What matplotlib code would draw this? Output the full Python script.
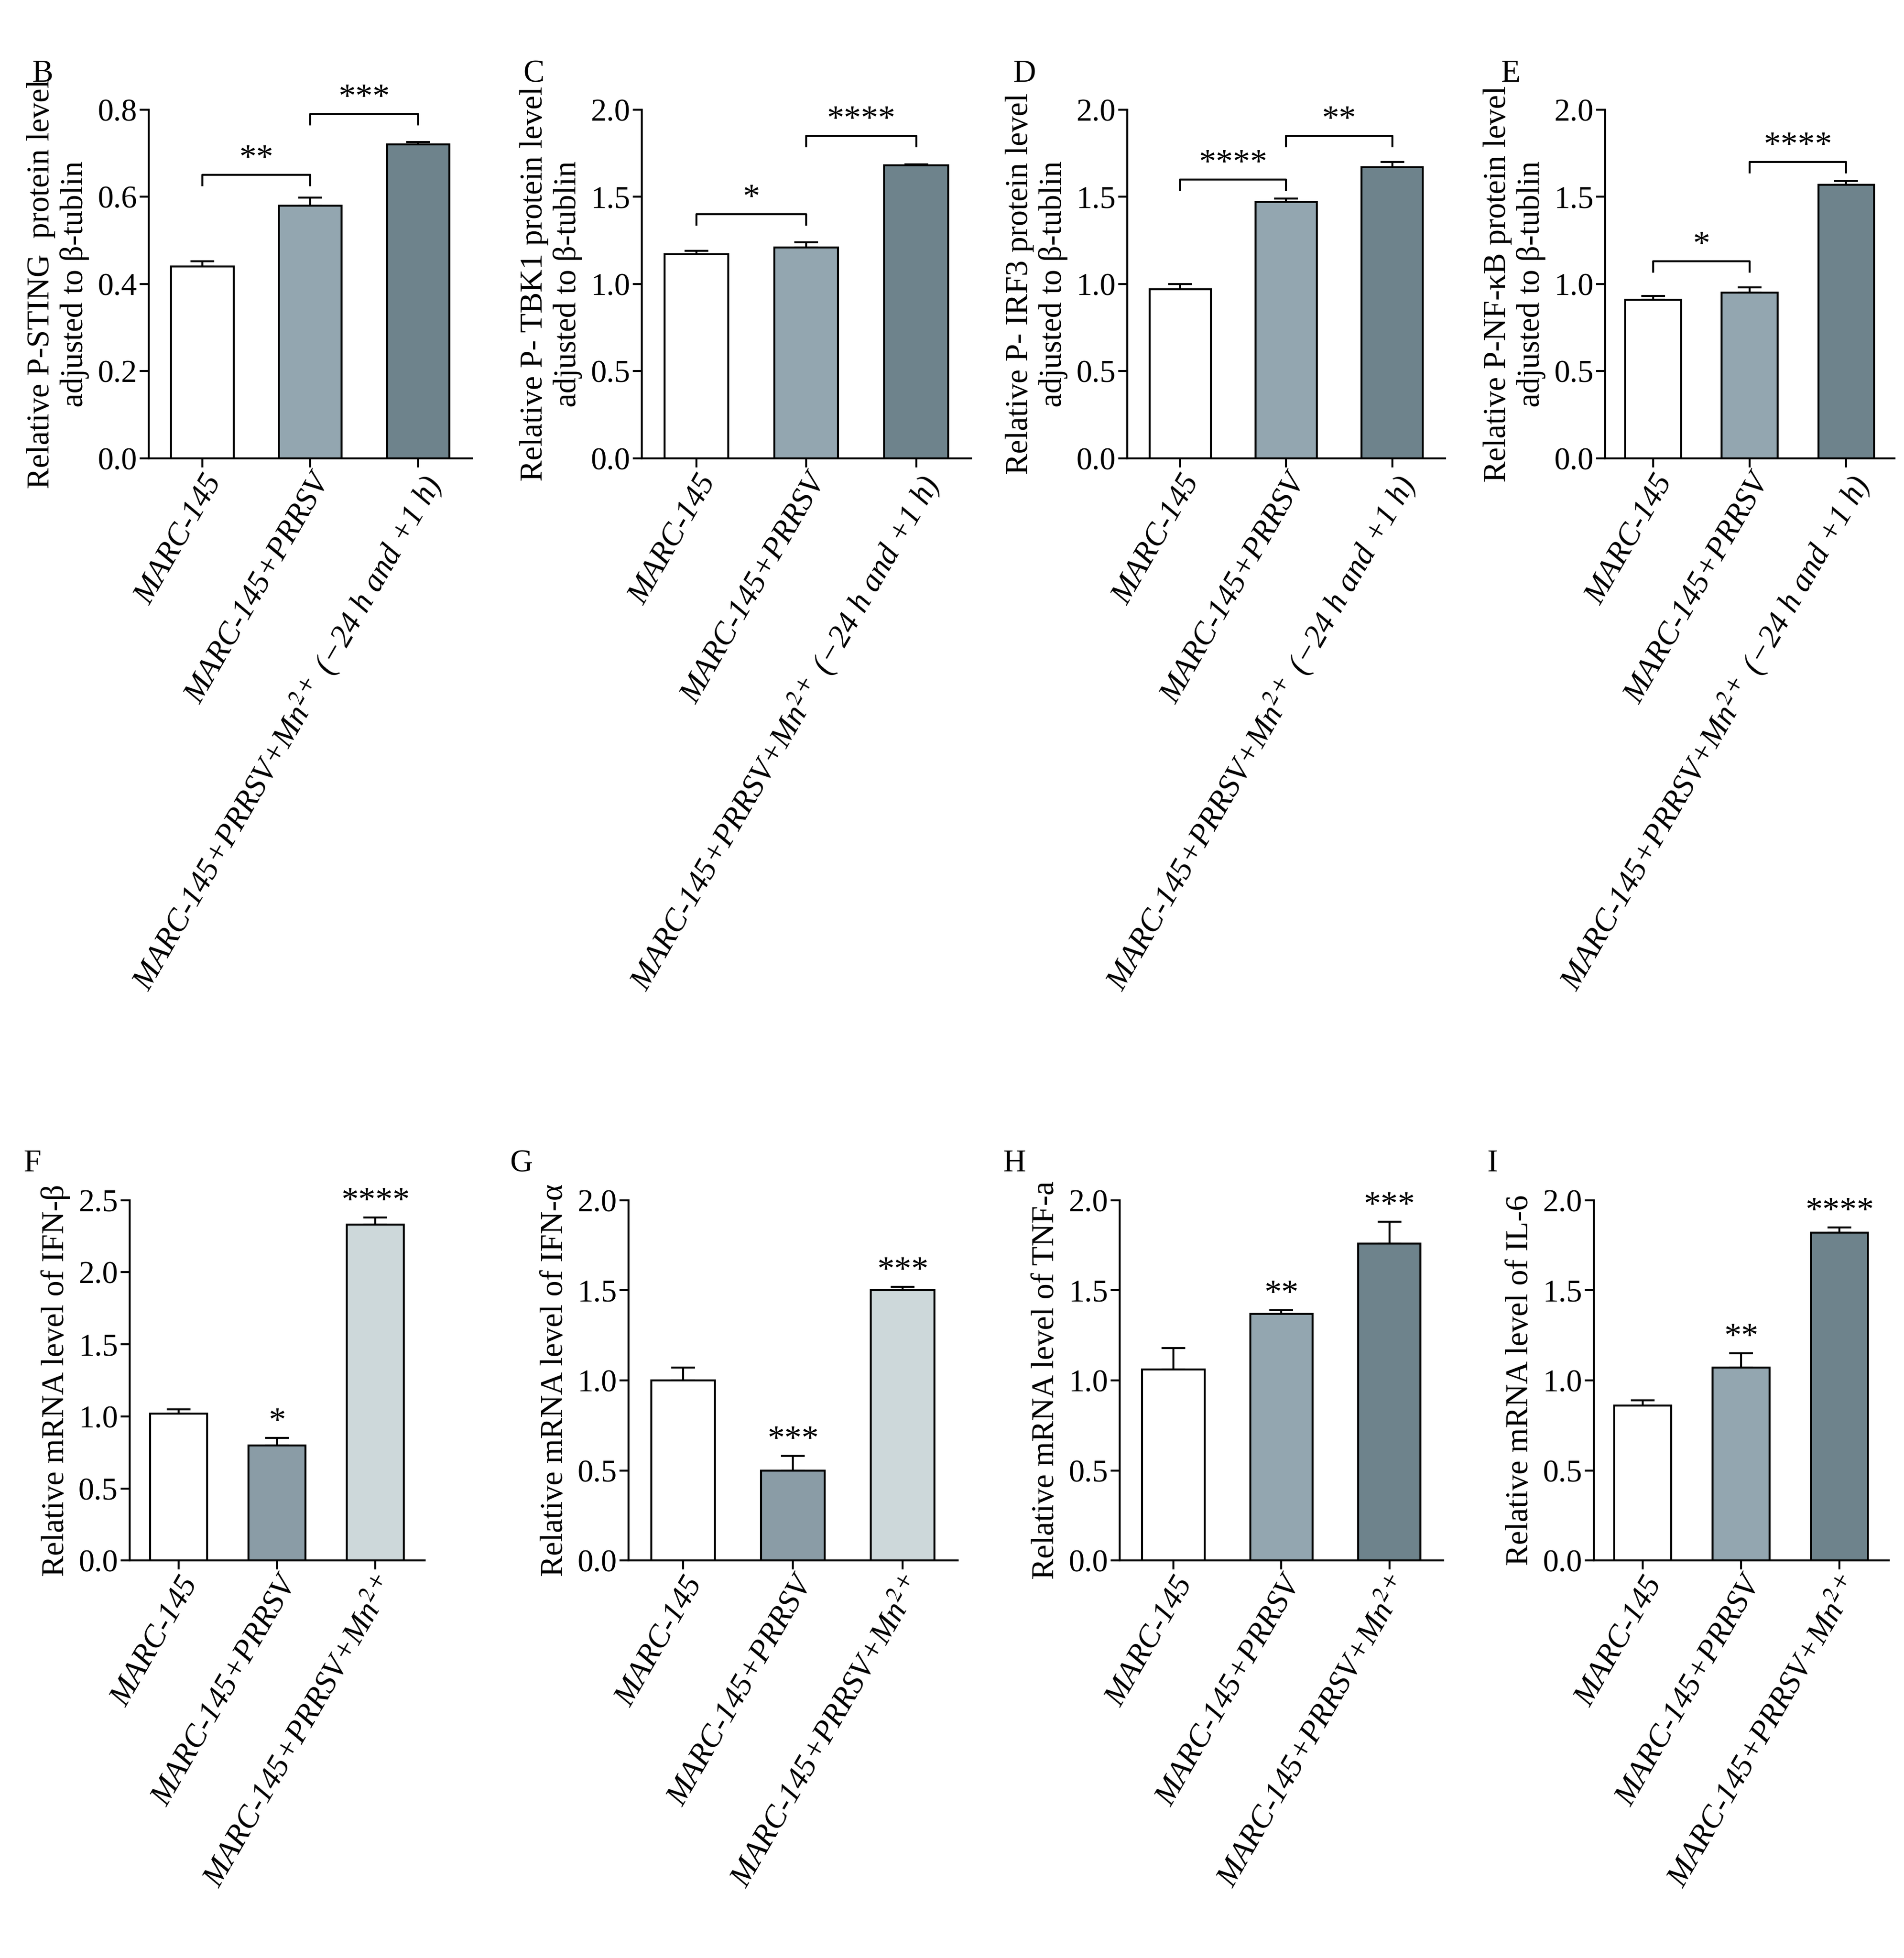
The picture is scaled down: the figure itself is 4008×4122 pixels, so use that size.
import matplotlib
matplotlib.use("Agg")
import matplotlib.pyplot as plt

plt.rcParams['font.family'] = ['Liberation Serif', 'DejaVu Serif']
plt.rcParams['mathtext.fontset'] = 'stix'

W, Hc, L, Dk = '#ffffff', '#93a6b0', '#6e838c', '#cdd8da'
cats_top = ['MARC-145', 'MARC-145+PRRSV', 'MARC-145+PRRSV+Mn$^{2+}$ (−24 h and +1 h)']
cats_bot = ['MARC-145', 'MARC-145+PRRSV', 'MARC-145+PRRSV+Mn$^{2+}$']

# top row data
B_vals, B_err = [0.44, 0.58, 0.72], [0.012, 0.018, 0.006]
C_vals, C_err = [1.17, 1.21, 1.68], [0.02, 0.03, 0.005]
D_vals, D_err = [0.97, 1.47, 1.67], [0.03, 0.02, 0.03]
E_vals, E_err = [0.91, 0.95, 1.57], [0.02, 0.03, 0.02]
# bottom row data
F_vals, F_err = [1.02, 0.80, 2.33], [0.03, 0.05, 0.05]
G_vals, G_err = [1.00, 0.50, 1.50], [0.07, 0.08, 0.02]
H_vals, H_err = [1.06, 1.37, 1.76], [0.12, 0.02, 0.12]
I_vals, I_err = [0.86, 1.07, 1.82], [0.03, 0.08, 0.03]

fig = plt.figure(figsize=(40.08, 41.22), dpi=100)
FS = 48

def panel(rect, letter, vals, err, colors, ylim, ticks, ylabel, cats, brackets=None, stars=None):
    ax = fig.add_axes(rect)
    x = range(3)
    ax.errorbar(x, vals, yerr=[[0]*3, err], fmt='none', ecolor='black', capsize=18, elinewidth=3, capthick=3, zorder=1)
    ax.bar(x, vals, width=0.58, color=colors, edgecolor='black', linewidth=3, zorder=2)
    ax.set_ylim(*ylim)
    ax.set_xlim(-0.5, 2.5)
    ax.set_yticks(ticks)
    ax.set_yticklabels([f'{t:.1f}' for t in ticks], fontsize=FS)
    ax.set_xticks(list(x))
    ax.set_xticklabels(cats, rotation=60, ha='right', rotation_mode='anchor', fontsize=FS, style='italic')
    for s in ['top', 'right']:
        ax.spines[s].set_visible(False)
    for s in ['left', 'bottom']:
        ax.spines[s].set_linewidth(3)
    ax.tick_params(width=3, length=14)
    ax.set_ylabel(ylabel, fontsize=FS, labelpad=12)
    ax.text(-0.36, 1.08, letter, transform=ax.transAxes, fontsize=FS)
    if brackets:
        d = (ylim[1]-ylim[0])*0.03
        for (a, b, y, s) in brackets:
            ax.plot([a, a, b, b], [y-d, y, y, y-d], color='black', lw=3, clip_on=False)
            ax.text((a+b)/2, y, s, ha='center', va='bottom', fontsize=FS+4, clip_on=False)
    if stars:
        for i, s in enumerate(stars):
            if s:
                ax.text(i, vals[i]+err[i], s, ha='center', va='bottom', fontsize=FS+4)
    return ax

tb, th = 0.766, 0.178
panel([0.078, tb, 0.17, th], 'B', B_vals, B_err, [W, Hc, L], (0, 0.8), [0, .2, .4, .6, .8],
      'Relative P-STING  protein level\nadjusted to β-tublin', cats_top,
      brackets=[(0, 1, 0.65, '**'), (1, 2, 0.79, '***')])
panel([0.337, tb, 0.173, th], 'C', C_vals, C_err, [W, Hc, L], (0, 2.0), [0, .5, 1, 1.5, 2],
      'Relative P- TBK1 protein level\nadjusted to β-tublin', cats_top,
      brackets=[(0, 1, 1.4, '*'), (1, 2, 1.85, '****')])
panel([0.592, tb, 0.167, th], 'D', D_vals, D_err, [W, Hc, L], (0, 2.0), [0, .5, 1, 1.5, 2],
      'Relative P- IRF3 protein level\nadjusted to β-tublin', cats_top,
      brackets=[(0, 1, 1.6, '****'), (1, 2, 1.85, '**')])
panel([0.843, tb, 0.152, th], 'E', E_vals, E_err, [W, Hc, L], (0, 2.0), [0, .5, 1, 1.5, 2],
      'Relative P-NF-κB protein level\nadjusted to β-tublin', cats_top,
      brackets=[(0, 1, 1.13, '*'), (1, 2, 1.7, '****')])

bb, bh = 0.203, 0.184
panel([0.068, bb, 0.155, bh], 'F', F_vals, F_err, [W, '#8a9ca6', Dk], (0, 2.5), [0, .5, 1, 1.5, 2, 2.5],
      'Relative mRNA level of IFN-β', cats_bot, stars=['', '*', '****'])
panel([0.33, bb, 0.173, bh], 'G', G_vals, G_err, [W, '#8a9ca6', Dk], (0, 2.0), [0, .5, 1, 1.5, 2],
      'Relative mRNA level of IFN-α', cats_bot, stars=['', '***', '***'])
panel([0.588, bb, 0.17, bh], 'H', H_vals, H_err, [W, Hc, L], (0, 2.0), [0, .5, 1, 1.5, 2],
      'Relative mRNA level of TNF-a', cats_bot, stars=['', '**', '***'])
panel([0.837, bb, 0.155, bh], 'I', I_vals, I_err, [W, Hc, L], (0, 2.0), [0, .5, 1, 1.5, 2],
      'Relative mRNA level of IL-6', cats_bot, stars=['', '**', '****'])

fig.savefig('out.png', dpi=100)
